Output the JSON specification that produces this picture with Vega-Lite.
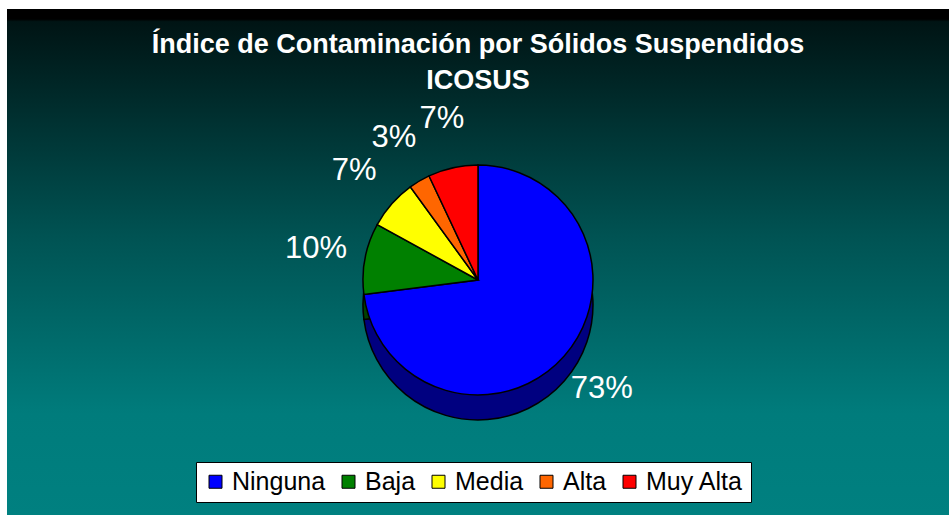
{
  "$schema": "https://vega.github.io/schema/vega-lite/v6.json",
  "width": 950,
  "height": 515,
  "autosize": {"type": "fit", "contains": "padding"},
  "padding": {"left": 7, "top": 9, "right": 1, "bottom": 0},
  "background": "white",
  "title": {
    "text": ["Índice de Contaminación por Sólidos Suspendidos", "ICOSUS"],
    "color": "white",
    "font": "Liberation Sans",
    "fontSize": 27,
    "fontWeight": "bold",
    "anchor": "middle",
    "frame": "group",
    "baseline": "alphabetic",
    "lineHeight": 36,
    "offset": -107
  },
  "config": {"view": {"stroke": null}},
  "data": {
    "values": [
      {"nivel": "Ninguna", "valor": 0.73, "orden": 1},
      {"nivel": "Baja", "valor": 0.10, "orden": 2},
      {"nivel": "Media", "valor": 0.07, "orden": 3},
      {"nivel": "Alta", "valor": 0.03, "orden": 4},
      {"nivel": "Muy Alta", "valor": 0.07, "orden": 5}
    ]
  },
  "layer": [
    {
      "data": {"values": [{"fondo": 1}]},
      "mark": {
        "type": "rect",
        "color": {
          "gradient": "linear",
          "x1": 0, "y1": 0, "x2": 0, "y2": 1,
          "stops": [
            {"offset": 0, "color": "#000000"},
            {"offset": 0.02, "color": "#000000"},
            {"offset": 0.025, "color": "#001414"},
            {"offset": 0.45, "color": "#005353"},
            {"offset": 0.8, "color": "#007c7c"},
            {"offset": 1, "color": "#008080"}
          ]
        }
      },
      "encoding": {}
    },
    {
      "mark": {"type": "arc", "outerRadius": 115, "yOffset": 43, "stroke": "black", "strokeWidth": 1.5},
      "encoding": {
        "theta": {"field": "valor", "type": "quantitative", "stack": true},
        "order": {"field": "orden", "type": "quantitative"},
        "color": {
          "field": "nivel", "type": "nominal",
          "scale": {"domain": ["Ninguna", "Baja", "Media", "Alta", "Muy Alta"], "range": ["#000080", "#004000", "#808000", "#803300", "#800000"]},
          "legend": null
        }
      }
    },
    {
      "mark": {"type": "arc", "outerRadius": 115, "yOffset": 18, "stroke": "black", "strokeWidth": 1.5},
      "encoding": {
        "theta": {"field": "valor", "type": "quantitative", "stack": true},
        "order": {"field": "orden", "type": "quantitative"},
        "color": {
          "field": "nivel", "type": "nominal",
          "sort": ["Ninguna", "Baja", "Media", "Alta", "Muy Alta"],
          "scale": {"domain": ["Ninguna", "Baja", "Media", "Alta", "Muy Alta"], "range": ["#0000FF", "#008000", "#FFFF00", "#FF6600", "#FF0000"]},
          "legend": {
            "title": null,
            "orient": "none",
            "legendX": 189,
            "legendY": 453,
            "direction": "horizontal",
            "columns": 5,
            "columnPadding": 10,
            "padding": 7,
            "fillColor": "white",
            "strokeColor": "black",
            "symbolType": "square",
            "symbolSize": 169,
            "symbolStrokeColor": "black",
            "symbolStrokeWidth": 1,
            "symbolOpacity": 1,
            "labelOffset": 4,
            "labelFont": "Liberation Sans",
            "labelFontSize": 25,
            "labelColor": "black",
            "labelLimit": 300
          }
        }
      }
    },
    {
      "mark": {"type": "text", "radius": 165, "yOffset": 18, "fontSize": 31, "font": "Liberation Sans", "color": "white"},
      "encoding": {
        "theta": {"field": "valor", "type": "quantitative", "stack": true},
        "order": {"field": "orden", "type": "quantitative"},
        "text": {"field": "valor", "type": "quantitative", "format": ".0%"}
      }
    }
  ],
  "resolve": {"scale": {"color": "independent"}}
}
